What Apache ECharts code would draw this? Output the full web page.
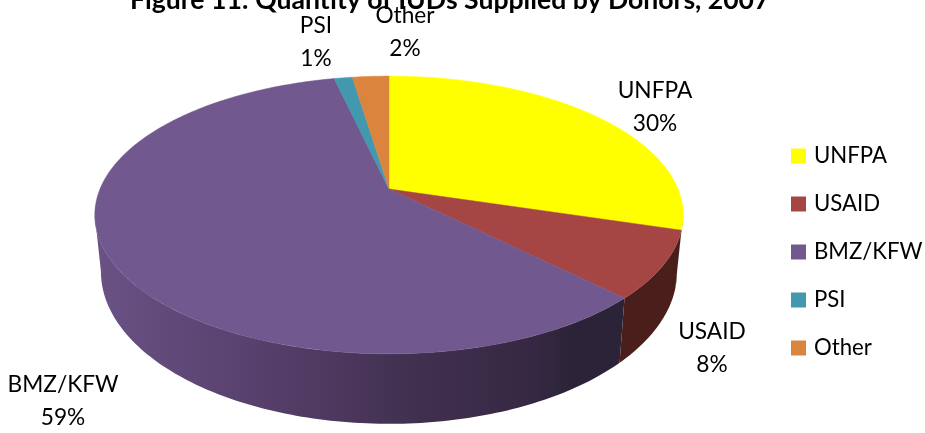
<!DOCTYPE html>
<html>
<head>
<meta charset="utf-8">
<style>html,body{margin:0;padding:0;background:#fff}#c{width:925px;height:433px}</style>
<script src="https://cdn.jsdelivr.net/npm/echarts@6/dist/echarts.min.js"></script>
</head>
<body>
<div id="c"></div>
<script>
const categories = ['UNFPA', 'USAID', 'BMZ/KFW', 'PSI', 'Other'];
const values = [29.7, 7.8, 58.9, 1.2, 2.4];
const percentLabels = ['30%', '8%', '59%', '1%', '2%'];
const titleText = 'Figure 11: Quantity of IUDs Supplied by Donors, 2007';

const faceColors = ['#ffff00', '#a54644', '#71588f', '#4198af', '#db843d'];
const labelAnchors = [[655, 107], [712, 348], [63, 401], [316, 42], [405, 32]];

const FONT = 'Lato, "Open Sans", sans-serif';
const persp = 0.187;
const topFace = { cx: 389, cy: 189, a: 289, b: 134 };
const bottomFace = { cx: 389, cy: 243, a: 283, b: 147 };
const sideAngle = Math.acos(-persp) * 180 / Math.PI;

function project(plane, deg) {
  const t = deg * Math.PI / 180;
  const x = Math.sin(t), y = Math.cos(t), w = 1 + persp * y;
  return [plane.cx + plane.a * x / w, plane.cy - plane.b * y / w];
}
function rim(plane, from, to) {
  const pts = [], n = Math.max(2, Math.ceil(Math.abs(to - from)));
  for (let i = 0; i <= n; i++) pts.push(project(plane, from + (to - from) * i / n));
  return pts;
}
const total = values.reduce((s, v) => s + v, 0);
function sliceRange(i) {
  let before = 0;
  for (let k = 0; k < i; k++) before += values[k];
  return [before / total * 360, (before + values[i]) / total * 360];
}
function wallFill(i) {
  if (i === 0) return '#5e5a10';
  if (i === 1) return '#4a1e1b';
  return {
    type: 'linear', x: 95, y: 0, x2: 625, y2: 0, global: true,
    colorStops: [
      { offset: 0, color: '#6a5285' }, { offset: 0.38, color: '#523c66' },
      { offset: 0.6, color: '#41304f' }, { offset: 0.82, color: '#362843' },
      { offset: 0.9, color: '#2b2438' }, { offset: 1, color: '#2b2438' }
    ]
  };
}
function makeRender(i) {
  return function () {
    const [from, to] = sliceRange(i);
    const children = [];
    if (i <= 2) {
      const a = i === 0 ? Math.max(from, sideAngle) : from;
      const b = i === 2 ? Math.min(to, 360 - sideAngle) : to;
      children.push({
        type: 'polygon', z2: 1,
        shape: { points: rim(topFace, a, b).concat(rim(bottomFace, b, a)) },
        style: { fill: wallFill(i) }
      });
    }
    children.push({
      type: 'polygon', z2: 2,
      shape: { points: [[topFace.cx, topFace.cy]].concat(rim(topFace, from, to)) },
      style: { fill: faceColors[i], stroke: faceColors[i], lineWidth: 0.5 }
    });
    children.push({
      type: 'text', z2: 3,
      style: {
        x: labelAnchors[i][0], y: labelAnchors[i][1],
        text: categories[i] + '\n' + percentLabels[i],
        fill: '#000', font: '22.7px ' + FONT, lineHeight: 33,
        align: 'center', verticalAlign: 'middle'
      }
    });
    return { type: 'group', children };
  };
}

const chart = echarts.init(document.getElementById('c'), null, { renderer: 'canvas' });
chart.setOption({
  animation: false,
  backgroundColor: '#fff',
  title: {
    text: titleText, left: 125, top: -18,
    textStyle: { fontFamily: FONT, fontSize: 26.6, fontWeight: 'bold', color: '#000' }
  },
  legend: {
    orient: 'vertical', left: 786, top: 140,
    icon: 'rect', itemWidth: 15, itemHeight: 15, itemGap: 26,
    selectedMode: false,
    data: categories,
    textStyle: { fontFamily: FONT, fontSize: 22.2, color: '#000', padding: [0, 0, 0, 3] }
  },
  series: categories.map((name, i) => ({
    type: 'custom', name, coordinateSystem: 'none', silent: true, clip: false,
    itemStyle: { color: faceColors[i] },
    renderItem: makeRender(i),
    data: [[values[i]]]
  }))
});
</script>
</body>
</html>
